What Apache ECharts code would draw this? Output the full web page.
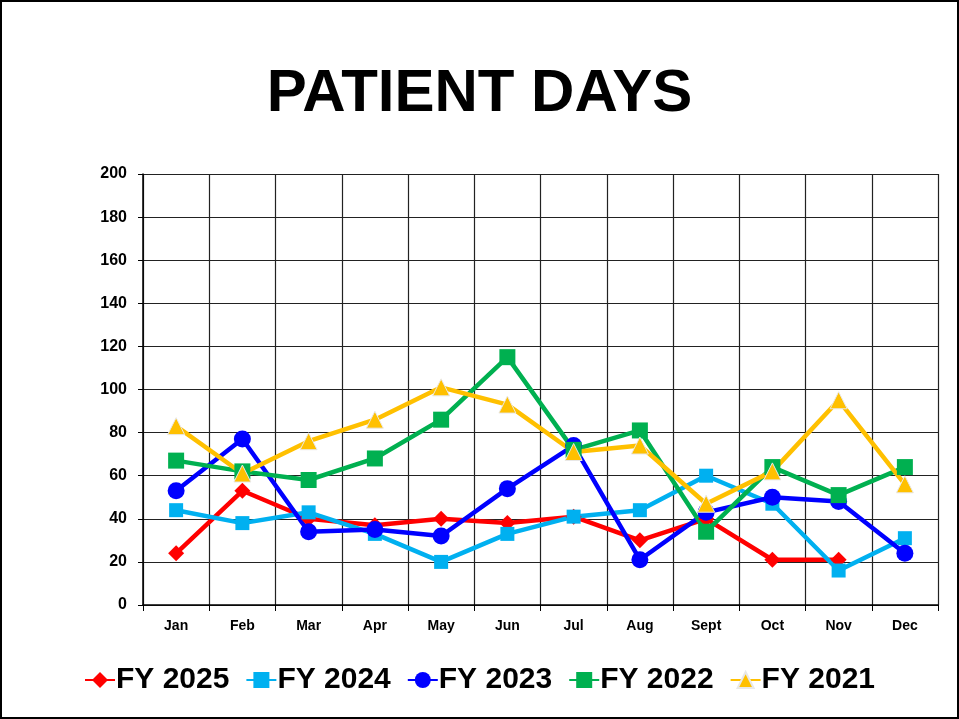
<!DOCTYPE html>
<html><head><meta charset="utf-8">
<script src="https://cdn.jsdelivr.net/npm/echarts@6/dist/echarts.min.js"></script>
<style>html,body{margin:0;padding:0;background:#fff}#c{width:959px;height:719px;box-sizing:border-box;border:2px solid #000}</style>
</head><body><div id="c"></div>
<script>
const months = ['Jan','Feb','Mar','Apr','May','Jun','Jul','Aug','Sept','Oct','Nov','Dec'];
const fy2025 = [24,53,40,37,40,38,41,30,40,21,21,null];
const fy2024 = [44,38,43,33,20,33,41,44,60,47,16,31];
const fy2023 = [53,77,34,35,32,54,74,21,43,50,48,24];
const fy2022 = [67,62,58,68,86,115,72,81,34,64,51,64];
const fy2021 = [83,61,76,86,101,93,71,74,47,62,95,56];

const chart = echarts.init(document.getElementById('c'));
function s(name, data, color, symbol, size){
  return {name, type:'line', data, symbol, symbolSize:size, showAllSymbol:true,
    lineStyle:{color, width:4.5}, itemStyle:{color, borderColor: symbol==='triangle'?'#e8e8e8':color, borderWidth: symbol==='triangle'?1:0},
    emphasis:{disabled:true}, animation:false, connectNulls:false, z: 2};
}
chart.setOption({
  animation:false,
  title:{text:'PATIENT DAYS', left:'center', top:57, textStyle:{fontFamily:'Liberation Sans, Arial', fontWeight:'bold', fontSize:60, color:'#000'}},
  grid:{left:141, right:19, top:172, bottom:112, containLabel:false},
  legend:{bottom:17, left:'center', itemWidth:30, itemHeight:20, itemGap:16,
    textStyle:{fontFamily:'Liberation Sans, Arial', fontWeight:'bold', fontSize:30, color:'#000', padding:[0,0,0,-4]},
    data:['FY 2025','FY 2024','FY 2023','FY 2022','FY 2021']},
  xAxis:{type:'category', data:months, boundaryGap:true,
    axisLine:{lineStyle:{color:'#000', width:1.5}},
    axisTick:{show:true, alignWithLabel:false, length:6, lineStyle:{color:'#000'}},
    splitLine:{show:true, lineStyle:{color:'#222', width:1.2}},
    axisLabel:{fontFamily:'Liberation Sans, Arial', fontWeight:'bold', fontSize:14, color:'#000', margin:14, interval:0}},
  yAxis:{type:'value', min:0, max:200, interval:20,
    axisLine:{show:true, lineStyle:{color:'#000', width:1.5}},
    axisTick:{show:true, length:5, lineStyle:{color:'#000'}},
    splitLine:{show:true, lineStyle:{color:'#222', width:1.2}},
    axisLabel:{fontFamily:'Liberation Sans, Arial', fontWeight:'bold', fontSize:16, color:'#000', margin:16}},
  series:[
    s('FY 2025', fy2025, '#ff0000', 'diamond', 16),
    s('FY 2024', fy2024, '#00b0f0', 'rect', 14),
    s('FY 2023', fy2023, '#0000ff', 'circle', 17),
    s('FY 2022', fy2022, '#00b050', 'rect', 16),
    s('FY 2021', fy2021, '#ffc000', 'triangle', 17)
  ]
});
</script></body></html>
